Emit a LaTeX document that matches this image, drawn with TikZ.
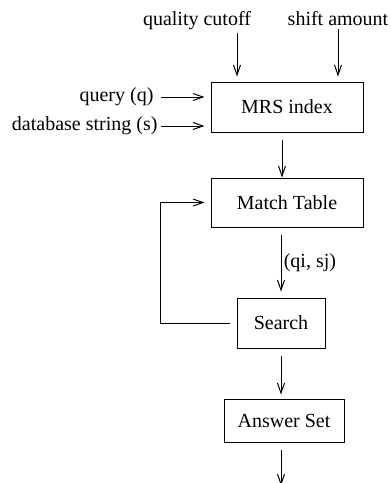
\documentclass[tikz,border=0pt]{standalone}
\usepackage{fontspec}
\setmainfont{Liberation Serif}
\usepackage{tikz}
\usetikzlibrary{positioning, arrows.meta}

\begin{document}
\begin{tikzpicture}[
    x=1pt, y=1pt,
    node distance=45pt,
    stage/.style={rectangle, draw, line width=1pt, minimum width=152pt, minimum height=50pt, font=\fontsize{20}{24}\selectfont},
    label_style/.style={font=\fontsize{20}{24}\selectfont},
    flow/.style={-{Straight Barb[length=10pt, width=7pt]}, line width=1pt, shorten >=5pt}
]
\useasboundingbox (0,0) rectangle (391,-483);

\node[stage] (mrs) at (287,-107) {MRS index};
\node[stage, minimum height=49pt, below=45pt of mrs] (match) {Match Table};
\node[stage, minimum width=88pt, below=70pt of match, xshift=-6pt] (search) {Search};
\node[stage, minimum width=120pt, minimum height=43pt, below=50pt of search, xshift=3pt] (answer) {Answer Set};

% inputs
\node[label_style, anchor=base] (cutoff) at (197,-25) {quality cutoff};
\node[label_style, anchor=base] (shift) at (338,-25) {shift amount};
\node[label_style, anchor=east] (query) at (157,-97) {query (q)};
\node[label_style, anchor=east] (dbstring) at (161,-126) {database string (s)};

\coordinate (cutin) at ([xshift=-50pt]mrs.north);
\coordinate (shiftin) at ([xshift=51pt]mrs.north);
\draw[flow] (cutin |- cutoff.south) -- (cutin);
\draw[flow] (shiftin |- shift.south) -- (shiftin);
\draw[flow, shorten <=4pt, shorten >=6pt] (query.east) -- (query.east -| mrs.west);
\draw[flow, shorten >=6pt] (dbstring.east) -- (dbstring.east -| mrs.west);

% main chain
\draw[flow, shorten <=7pt, shorten >=0pt] ([xshift=-5pt]mrs.south) -- ([xshift=-5pt]match.north);
\draw[flow, shorten <=7pt, shorten >=6pt] (search.north |- match.south) -- (search.north)
    node[midway, right, xshift=-1pt, label_style] {(qi, sj)};
\draw[flow, shorten <=7pt, shorten >=4pt] (search.south) -- (search.south |- answer.north);

\coordinate (loop) at ([xshift=-76pt]search.west);
\draw[flow, shorten <=7pt, shorten >=6pt] (search.west) -- (loop) |- (match.west);

\coordinate (out) at ([yshift=-43pt]answer.south -| search.south);
\draw[flow, shorten <=7pt, shorten >=0pt] (answer.south -| search.south) -- (out);

\end{tikzpicture}
\end{document}
